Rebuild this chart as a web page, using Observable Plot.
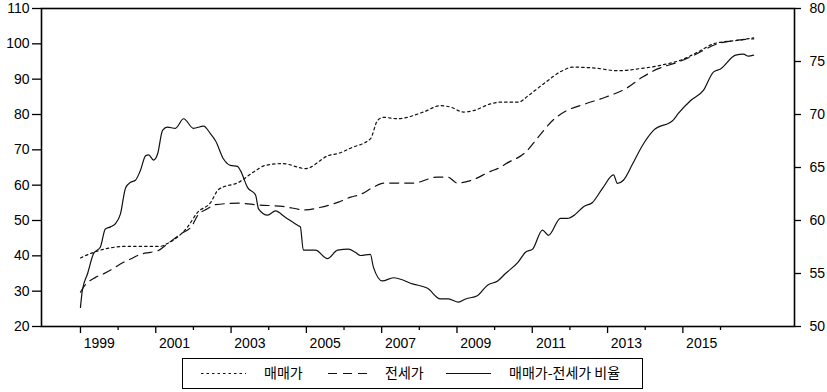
<!DOCTYPE html>
<html>
<head>
<meta charset="utf-8">
<script src="https://cdn.jsdelivr.net/npm/d3@7"></script>
<script src="https://cdn.jsdelivr.net/npm/@observablehq/plot@0.6"></script>
<style>
  html, body { margin: 0; padding: 0; background: #fff; }
  #wrap { position: relative; width: 827px; height: 392px; }
  #legend { position: absolute; left: 182px; top: 358px; width: 461px; height: 31px;
            box-sizing: border-box; border: 1.5px solid #000; background: #fff; }
</style>
</head>
<body>
<div id="wrap"><div id="chart"></div><div id="legend"></div></div>
<script>
// ---- data ----
const seriesNames = ["매매가", "전세가", "매매가-전세가 비율"];

const saleYears  = [1999.0, 1999.35, 2000.25, 2001.12, 2001.31, 2001.84, 2002.11, 2002.45, 2002.67, 2003.2, 2003.65, 2003.91, 2004.37, 2004.98, 2005.59, 2005.85, 2006.2, 2006.7, 2006.89, 2007.05, 2007.42, 2008.11, 2008.56, 2008.83, 2009.17, 2009.44, 2009.89, 2010.16, 2010.63, 2010.9, 2011.35, 2011.8, 2012.07, 2012.6, 2013.29, 2013.87, 2014.4, 2015.02, 2015.47, 2015.81, 2016.53, 2016.88];
const saleValues = [39.4, 41.0, 42.7, 42.7, 43.5, 48.1, 52.3, 55.0, 58.8, 60.8, 64.1, 65.6, 66.1, 64.7, 68.4, 69.0, 70.6, 73.1, 78.3, 79.2, 78.8, 80.7, 82.5, 82.1, 80.7, 81.1, 83.0, 83.5, 83.5, 85.4, 89.1, 92.4, 93.4, 93.2, 92.4, 93.0, 93.9, 95.7, 98.1, 100.0, 101.1, 101.7];

const jeonseYears  = [1999.0, 1999.08, 1999.4, 1999.61, 1999.93, 2000.06, 2000.33, 2000.59, 2000.86, 2001.07, 2001.31, 2001.66, 2001.97, 2002.11, 2002.37, 2002.59, 2003.2, 2003.73, 2004.37, 2004.98, 2005.32, 2005.85, 2006.17, 2006.44, 2006.78, 2007.05, 2007.84, 2008.48, 2008.75, 2009.01, 2009.36, 2009.89, 2010.16, 2010.29, 2010.82, 2011.16, 2011.54, 2011.88, 2012.41, 2012.94, 2013.48, 2013.93, 2014.33, 2014.86, 2015.28, 2015.92, 2016.34, 2016.88];
const jeonseValues = [29.7, 31.1, 33.9, 34.9, 36.8, 37.7, 39.1, 40.4, 41.0, 41.5, 43.4, 46.2, 48.6, 51.4, 53.3, 54.5, 54.9, 54.4, 54.0, 53.0, 53.6, 55.2, 56.6, 57.4, 59.4, 60.6, 60.6, 62.3, 62.3, 60.6, 61.3, 63.9, 65.1, 66.0, 69.3, 73.6, 78.3, 80.9, 83.0, 84.9, 87.3, 90.6, 92.9, 94.8, 96.7, 100.0, 100.9, 101.4];

const ratioYears  = [1999.0, 1999.05, 1999.19, 1999.35, 1999.53, 1999.66, 1999.8, 1999.93, 2000.06, 2000.2, 2000.33, 2000.46, 2000.59, 2000.73, 2000.81, 2000.94, 2001.05, 2001.18, 2001.31, 2001.52, 2001.74, 2002.0, 2002.27, 2002.45, 2002.59, 2002.8, 2002.98, 2003.17, 2003.25, 2003.44, 2003.65, 2003.73, 2003.97, 2004.18, 2004.44, 2004.79, 2004.84, 2004.92, 2005.24, 2005.56, 2005.83, 2006.12, 2006.3, 2006.44, 2006.7, 2006.78, 2007.02, 2007.31, 2007.84, 2008.22, 2008.56, 2008.77, 2009.04, 2009.23, 2009.54, 2009.81, 2010.08, 2010.29, 2010.63, 2010.82, 2011.01, 2011.27, 2011.43, 2011.75, 2011.93, 2012.15, 2012.36, 2012.6, 2012.86, 2013.16, 2013.26, 2013.42, 2013.66, 2013.93, 2014.22, 2014.75, 2014.88, 2015.2, 2015.55, 2015.81, 2016.0, 2016.4, 2016.61, 2016.74, 2016.88];
const ratioValues = [51.8, 53.4, 55.0, 56.9, 57.5, 59.2, 59.4, 59.7, 60.6, 63.1, 63.6, 63.8, 64.7, 66.1, 66.2, 65.7, 66.3, 68.5, 68.8, 68.7, 69.6, 68.7, 68.9, 68.2, 67.5, 65.8, 65.2, 65.1, 64.7, 63.1, 62.4, 61.1, 60.5, 60.9, 60.3, 59.5, 59.4, 57.2, 57.2, 56.4, 57.2, 57.3, 57.0, 56.7, 56.8, 55.6, 54.3, 54.6, 54.0, 53.6, 52.6, 52.6, 52.3, 52.6, 52.9, 53.9, 54.3, 55.0, 56.1, 57.0, 57.3, 59.1, 58.6, 60.2, 60.2, 60.6, 61.3, 61.7, 63.0, 64.3, 63.5, 63.8, 65.3, 67.1, 68.5, 69.5, 70.1, 71.3, 72.3, 74.0, 74.3, 75.6, 75.7, 75.5, 75.6];

const leftTicks  = [20, 30, 40, 50, 60, 70, 80, 90, 100, 110];
const rightTicks = [50, 55, 60, 65, 70, 75, 80];
const majorYears = [1999, 2001, 2003, 2005, 2007, 2009, 2011, 2013, 2015];
const minorYears = [2000, 2002, 2004, 2006, 2008, 2010, 2012, 2014, 2016];

// ---- scales helpers ----
const leftDomain = [20, 110];
const rightDomain = [50, 80];
const toLeft = v => leftDomain[0] + (v - rightDomain[0]) * (leftDomain[1] - leftDomain[0]) / (rightDomain[1] - rightDomain[0]);
const fromLeft = d => rightDomain[0] + (d - leftDomain[0]) * (rightDomain[1] - rightDomain[0]) / (leftDomain[1] - leftDomain[0]);

const sale = saleYears.map((x, i) => ({x, y: saleValues[i]}));
const jeonse = jeonseYears.map((x, i) => ({x, y: jeonseValues[i]}));
const ratio = ratioYears.map((x, i) => ({x, y: toLeft(ratioValues[i])}));

const styles = [
  {dash: "2.5,3"},
  {dash: "9,6"},
  {dash: null}
];

const font = "'Liberation Sans', Arial, sans-serif";

const chart = Plot.plot({
  width: 827,
  height: 352,
  marginLeft: 41,
  marginRight: 33,
  marginTop: 8,
  marginBottom: 26,
  style: {fontFamily: font, fontSize: "14px", color: "#000", background: "#fff"},
  x: {domain: [1997.965, 2017.965]},
  y: {domain: leftDomain},
  marks: [
    Plot.axisY(leftTicks, {anchor: "left", tickSize: 9, tickPadding: 3, label: null, strokeWidth: 1.3}),
    Plot.axisY(rightTicks.map(toLeft), {anchor: "right", tickSize: 6, tickPadding: 9, label: null, strokeWidth: 1.3, tickFormat: d => String(Math.round(fromLeft(d)))}),
    Plot.axisX(majorYears, {anchor: "bottom", tickSize: 7, tickFormat: () => "", label: null, strokeWidth: 1.3}),
    Plot.axisX(minorYears, {anchor: "bottom", tickSize: 4, tickFormat: () => "", label: null, strokeWidth: 1.3}),
    Plot.axisX(majorYears.map(y => y + 0.5), {anchor: "bottom", tickSize: 0, tickPadding: 12, label: null, tickFormat: d => String(Math.round(d - 0.5))}),
    Plot.line(sale, {x: "x", y: "y", stroke: "#111", strokeWidth: 1.2, strokeDasharray: styles[0].dash, curve: "monotone-x"}),
    Plot.line(jeonse, {x: "x", y: "y", stroke: "#111", strokeWidth: 1.2, strokeDasharray: styles[1].dash, curve: "monotone-x"}),
    Plot.line(ratio, {x: "x", y: "y", stroke: "#111", strokeWidth: 1.2, curve: "monotone-x"}),
    Plot.frame({stroke: "#000", strokeWidth: 1.6})
  ]
});
document.getElementById("chart").appendChild(chart);

// ---- legend ----
const legendItems = [
  {name: seriesNames[0], dash: styles[0].dash, x0: 18, x1: 63, tx: 81},
  {name: seriesNames[1], dash: styles[1].dash, x0: 145, x1: 184, tx: 202},
  {name: seriesNames[2], dash: styles[2].dash, x0: 263, x1: 308, tx: 326}
];
const lsvg = d3.select("#legend").append("svg")
  .attr("width", 458).attr("height", 28)
  .style("display", "block");
for (const it of legendItems) {
  lsvg.append("line")
    .attr("x1", it.x0).attr("x2", it.x1).attr("y1", 14.5).attr("y2", 14.5)
    .attr("stroke", "#111").attr("stroke-width", 1.2)
    .attr("stroke-dasharray", it.dash);
  lsvg.append("text")
    .attr("x", it.tx).attr("y", 14.5).attr("dy", "0.35em")
    .attr("font-family", "'Noto Sans CJK KR', sans-serif")
    .attr("font-size", 14).attr("fill", "#000")
    .text(it.name);
}
</script>
</body>
</html>
